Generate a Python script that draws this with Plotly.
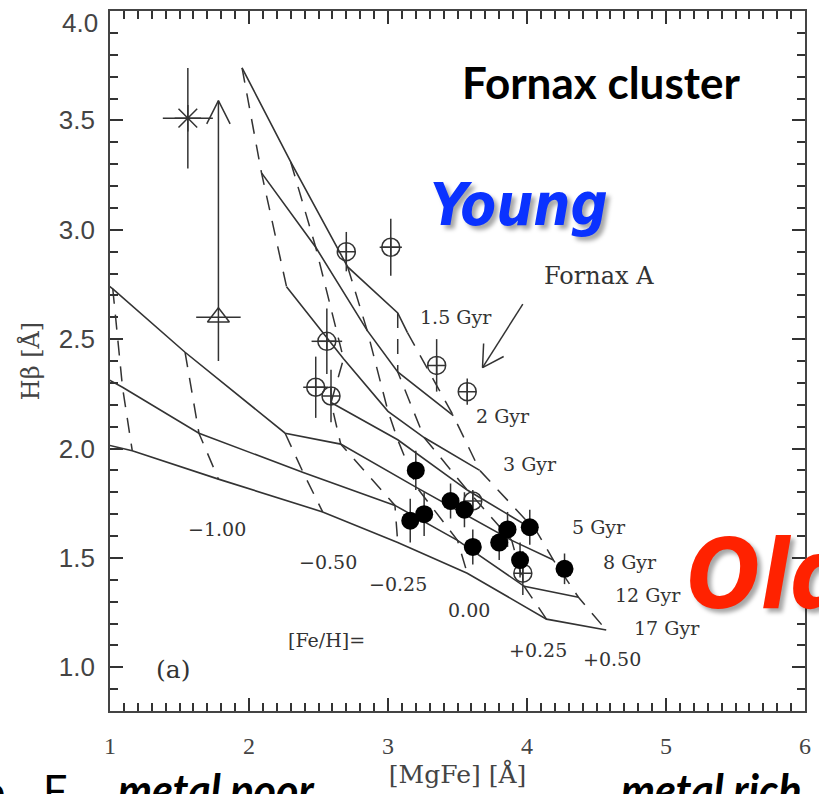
import math
import plotly.graph_objects as go

# ---- axis ranges -------------------------------------------------------
X_RANGE = [1.0, 6.0]
Y_RANGE = [0.8, 4.0]

# ---- model grid: [MgFe] and Hbeta along each age track -----------------
# metallicity nodes of every track
FEH = [-2.00, -1.50, -1.00, -0.50, -0.25, 0.00, 0.25, 0.50]
AGES = ["1.5", "2", "3", "5", "8", "12", "17"]

mgfe_1p5 = [None, None, None, 1.95, 2.30, 2.71, 3.07, 3.14]
hb_1p5 = [None, None, None, 3.74, 3.31, 2.83, 2.62, 2.53]

mgfe_2 = [None, None, None, 2.09, 2.48, 2.85, 3.07, 3.47]
hb_2 = [None, None, None, 3.26, 2.92, 2.54, 2.35, 2.15]

mgfe_3 = [None, None, None, 2.27, 2.68, 3.00, 3.26, 3.66]
hb_3 = [None, None, None, 2.74, 2.41, 2.17, 2.05, 1.90]

mgfe_5 = [None, None, None, None, 2.59, 3.07, 3.57, 4.07]
hb_5 = [None, None, None, None, 2.21, 2.04, 1.81, 1.62]

mgfe_8 = [0.89, 1.02, 1.54, 2.26, 2.66, 3.21, 3.89, 4.19]
hb_8 = [2.79, 2.73, 2.44, 2.07, 2.02, 1.82, 1.58, 1.49]

mgfe_12 = [0.89, 1.09, 1.64, 2.39, 3.05, 3.50, 3.98, 4.37]
hb_12 = [2.35, 2.28, 2.07, 1.89, 1.74, 1.58, 1.37, 1.32]

mgfe_17 = [0.89, 1.16, 1.78, 2.53, 3.07, 3.57, 4.14, 4.57]
hb_17 = [2.03, 1.99, 1.86, 1.71, 1.57, 1.43, 1.22, 1.17]

TRACKS_X = [mgfe_1p5, mgfe_2, mgfe_3, mgfe_5, mgfe_8, mgfe_12, mgfe_17]
TRACKS_Y = [hb_1p5, hb_2, hb_3, hb_5, hb_8, hb_12, hb_17]

# ---- galaxies -----------------------------------------------------------
# old (filled) galaxies
old_mgfe = [3.20, 3.16, 3.26, 3.45, 3.55, 3.61, 3.86, 3.80, 4.02, 3.95, 4.27]
old_hb = [1.90, 1.67, 1.70, 1.76, 1.72, 1.55, 1.63, 1.57, 1.64, 1.49, 1.45]
old_hb_err = [0.09, 0.10, 0.10, 0.08, 0.08, 0.08, 0.08, 0.08, 0.08, 0.08, 0.07]

# young-looking (open, crossed circle) galaxies
yng_mgfe = [2.70, 3.02, 2.56, 2.48, 2.59, 3.35, 3.57, 3.61, 3.97]
yng_hb = [2.90, 2.92, 2.49, 2.28, 2.24, 2.38, 2.26, 1.76, 1.43]
yng_hb_err = [0.09, 0.13, 0.15, 0.14, 0.12, 0.12, 0.06, 0.05, 0.10]
yng_mgfe_err = [0.0, 0.08, 0.11, 0.09, 0.0, 0.0, 0.0, 0.0, 0.0]

# peculiar objects
star_mgfe, star_hb = 1.56, 3.51
star_mgfe_err, star_hb_err = 0.18, 0.23
tri_mgfe, tri_hb = 1.78, 2.60
tri_mgfe_err, tri_hb_err_low = 0.16, 0.20
tri_hb_limit = 3.59

# Fornax A pointer (tail -> head)
fornaxA_tail = (3.97, 2.66)
fornaxA_head = (3.68, 2.37)

INK = "#333333"
FRAME = "#444444"
SERIF = "DejaVu Serif"
CONDENSED = "DejaVu Sans Condensed, sans-serif"
SOFT_SHADOW = "4px 4px 4px rgba(0,0,0,0.35)"

# plot-area geometry, used to size arrow heads and place slide text
W, H = 819, 794
M = dict(l=110, r=8, t=11, b=83)
PLOT_W = W - M["l"] - M["r"]
PLOT_H = H - M["t"] - M["b"]
PX_X = PLOT_W / (X_RANGE[1] - X_RANGE[0])
PX_Y = PLOT_H / (Y_RANGE[1] - Y_RANGE[0])


def v_head(tip, tail, length=22, half_angle=28):
    """Open V arrow head at `tip`, pointing away from `tail`."""
    dxp = (tip[0] - tail[0]) * PX_X
    dyp = (tip[1] - tail[1]) * PX_Y
    ang = math.atan2(dyp, dxp)
    xs, ys = [], []
    for s in (1, -1):
        a = ang + math.pi + s * math.radians(half_angle)
        xs.append(tip[0] + length * math.cos(a) / PX_X)
        ys.append(tip[1] + length * math.sin(a) / PX_Y)
    return [xs[0], tip[0], xs[1]], [ys[0], tip[1], ys[1]]


fig = go.Figure()

# constant-age tracks (solid)
for tx, ty in zip(TRACKS_X, TRACKS_Y):
    fig.add_trace(go.Scatter(x=tx, y=ty, mode="lines",
                             line=dict(color=INK, width=1.6),
                             connectgaps=False, hoverinfo="skip"))

# constant-metallicity tracks (dashed)
for j in range(len(FEH)):
    fx = [t[j] for t in TRACKS_X]
    fy = [t[j] for t in TRACKS_Y]
    fig.add_trace(go.Scatter(x=fx, y=fy, mode="lines",
                             line=dict(color=INK, width=1.5, dash="15px,11px"),
                             connectgaps=False, hoverinfo="skip"))

# open crossed circles
fig.add_trace(go.Scatter(
    x=yng_mgfe, y=yng_hb, mode="markers",
    marker=dict(symbol="circle-cross-open", size=18, color=INK,
                line=dict(width=1.5, color=INK)),
    error_y=dict(type="data", array=yng_hb_err, color=INK, thickness=1.5, width=0),
    error_x=dict(type="data", array=yng_mgfe_err, color=INK, thickness=1.5, width=0),
))

# filled circles
fig.add_trace(go.Scatter(
    x=old_mgfe, y=old_hb, mode="markers",
    marker=dict(symbol="circle", size=18, color="black"),
    error_y=dict(type="data", array=old_hb_err, color=INK, thickness=1.5, width=0),
))

# asterisk
fig.add_trace(go.Scatter(
    x=[star_mgfe], y=[star_hb], mode="markers",
    marker=dict(symbol="asterisk-open", size=22, color=INK,
                line=dict(width=1.5, color=INK)),
    error_y=dict(type="data", array=[star_hb_err], color=INK, thickness=1.5, width=0),
    error_x=dict(type="data", array=[star_mgfe_err], color=INK, thickness=1.5, width=0),
))

# triangle with lower-limit arrow
fig.add_trace(go.Scatter(
    x=[tri_mgfe], y=[tri_hb], mode="markers",
    marker=dict(symbol="triangle-up-open", size=19, color=INK,
                line=dict(width=1.5, color=INK)),
    error_y=dict(type="data", array=[0], arrayminus=[tri_hb_err_low],
                 color=INK, thickness=1.5, width=0),
    error_x=dict(type="data", array=[tri_mgfe_err], color=INK, thickness=1.5, width=0),
))
fig.add_trace(go.Scatter(x=[tri_mgfe, tri_mgfe], y=[tri_hb, tri_hb_limit],
                         mode="lines", line=dict(color=INK, width=1.5)))
hx, hy = v_head((tri_mgfe, tri_hb_limit), (tri_mgfe, tri_hb), length=26, half_angle=27)
fig.add_trace(go.Scatter(x=hx, y=hy, mode="lines", line=dict(color=INK, width=1.5)))

# Fornax A pointer
fig.add_trace(go.Scatter(x=[fornaxA_tail[0], fornaxA_head[0]],
                         y=[fornaxA_tail[1], fornaxA_head[1]],
                         mode="lines", line=dict(color=INK, width=1.5)))
hx, hy = v_head(fornaxA_head, fornaxA_tail, length=24, half_angle=30)
fig.add_trace(go.Scatter(x=hx, y=hy, mode="lines", line=dict(color=INK, width=1.5)))

# invisible point that keeps the minor-tick axes alive
fig.add_trace(go.Scatter(x=[X_RANGE[0]], y=[Y_RANGE[0]], xaxis="x2", yaxis="y2",
                         mode="markers", marker=dict(opacity=0), hoverinfo="skip"))

annotations = []


def label(text, x, y, size=19, family=SERIF, color=INK, **kw):
    annotations.append(dict(text=text, x=x, y=y, xref="x", yref="y",
                            showarrow=False, font=dict(family=family, size=size, color=color),
                            **kw))


def slide_text(text, px, py, font, **kw):
    """Text placed by page pixel position."""
    annotations.append(dict(text=text, xref="paper", yref="paper",
                            x=(px - M["l"]) / PLOT_W, y=(H - M["b"] - py) / PLOT_H,
                            showarrow=False, font=font, **kw))


# age labels
age_label_pos = [(3.49, 2.60), (3.83, 2.15), (4.02, 1.93), (4.52, 1.64),
                 (4.74, 1.48), (4.87, 1.33), (5.01, 1.18)]
for age, (ax_, ay_) in zip(AGES, age_label_pos):
    label(f"{age} Gyr", ax_, ay_)

# metallicity labels
feh_label_pos = [(1.77, 1.63), (2.57, 1.48), (3.07, 1.38), (3.58, 1.26),
                 (4.08, 1.08), (4.61, 1.04)]
for feh, (fx_, fy_) in zip(FEH[2:], feh_label_pos):
    txt = "0.00" if feh == 0 else (f"+{feh:.2f}" if feh > 0 else f"\u2212{abs(feh):.2f}")
    label(txt, fx_, fy_)

label("[Fe/H]=", 2.56, 1.125)
label("Fornax A", 4.52, 2.79, size=24)
label("(a)", 1.45, 0.99, size=25)

# 4.0 label sits just below the frame corner
annotations.append(dict(text="4.0", x=0, xref="paper", xanchor="right", xshift=-10,
                        y=4.0, yref="y", yshift=-12, showarrow=False,
                        font=dict(family="Liberation Sans", size=26, color="#444")))

# slide overlays
label("<b>Fornax cluster</b>", 4.53, 3.675, size=44, family="Lato", color="black")

annotations.append(dict(text="Young", x=3.944, y=3.115, xref="x", yref="y", showarrow=False,
                        font=dict(family=CONDENSED, size=58, weight=700, style="italic",
                                  color="#0A32FF", shadow=SOFT_SHADOW)))
annotations.append(dict(text="Old", x=5.134, y=1.42, xref="x", yref="y",
                        xanchor="left", showarrow=False,
                        font=dict(family=CONDENSED, size=96, weight=700,
                                  style="italic", color="#FF2200", shadow=SOFT_SHADOW)))

caption = dict(family="Lato", size=43, color="black")
slide_text("<b><i>metal poor</i></b>", 116, 762, caption, xanchor="left", yanchor="top")
slide_text("<b><i>metal rich</i></b>", 623, 762, caption, xanchor="left", yanchor="top")
slide_text("F", 40, 762, caption, xanchor="left", yanchor="top")
slide_text("o", 6, 762, caption, xanchor="right", yanchor="top")

axis_common = dict(showline=True, linecolor=FRAME, linewidth=1.6, mirror="allticks",
                   ticks="inside", tickcolor=INK, tickwidth=1.6, ticklen=13,
                   showgrid=False, zeroline=False)
# overlay axes carrying the 0.1 minor ticks on all four sides
minor_common = dict(showline=False, mirror="allticks", ticks="inside", ticklen=8,
                    tickwidth=1.5, tickcolor=INK, showticklabels=False,
                    showgrid=False, zeroline=False, tickmode="linear")

fig.update_layout(
    width=W, height=H, margin=M,
    paper_bgcolor="white", plot_bgcolor="white", showlegend=False,
    annotations=annotations,
    xaxis=dict(range=X_RANGE, dtick=1, tick0=1, **axis_common,
               tickfont=dict(family="Liberation Serif", size=24, color="#444"),
               ticklabelstandoff=12,
               title=dict(text="[MgFe] [Å]", standoff=6,
                          font=dict(family=SERIF, size=25, color="#444"))),
    yaxis=dict(range=Y_RANGE, tickvals=[1.0, 1.5, 2.0, 2.5, 3.0, 3.5],
               ticktext=["1.0", "1.5", "2.0", "2.5", "3.0", "3.5"], **axis_common,
               tickfont=dict(family="Liberation Sans", size=26, color="#444"),
               ticklabelstandoff=8,
               title=dict(text="Hβ [Å]", standoff=12,
                          font=dict(family=SERIF, size=24, color="#444"))),
    xaxis2=dict(overlaying="x", anchor="y2", side="bottom", range=X_RANGE,
                tick0=1, dtick=0.1, **minor_common),
    yaxis2=dict(overlaying="y", anchor="x2", side="left", range=Y_RANGE,
                tick0=0.8, dtick=0.1, **minor_common),
)

fig.write_html("out.html")
